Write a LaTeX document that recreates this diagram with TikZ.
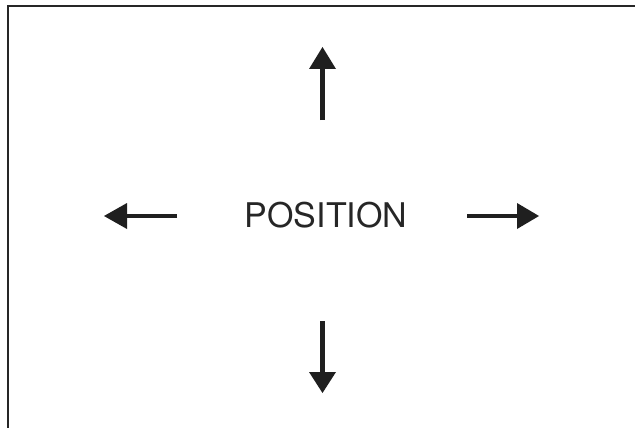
\documentclass[tikz,border=0pt]{standalone}
\usepackage{fontspec}
\setmainfont{TeX Gyre Heros}
\begin{document}
\begin{tikzpicture}[x=1pt,y=-1pt,
  frame/.style={draw=black!85, line width=2pt},
  shaft/.style={draw=black!88, line width=4.5pt},
  head/.style={fill=black!88, draw=none},
  label/.style={font=\fontsize{34}{37}\selectfont, text=black!85, inner sep=0pt}]
\useasboundingbox (0,0) rectangle (635,428);
\draw[frame] (7.5,428) -- (7.5,6.5) -- (635,6.5);
\node[label] (pos) at (326,215) {POSITION};
% up
\coordinate (u1) at (322.5,120);
\coordinate (u2) at (322.5,68);
\draw[shaft] (u1) -- (u2);
\fill[head] (309,69) -- (336,69) -- (322.5,47) -- cycle;
% down
\coordinate (d1) at (322.5,321);
\coordinate (d2) at (322.5,373);
\draw[shaft] (d1) -- (d2);
\fill[head] (309,372) -- (336,372) -- (322.5,393) -- cycle;
% left
\coordinate (l1) at (177,215.8);
\coordinate (l2) at (126,215.8);
\draw[shaft] (l1) -- (l2);
\fill[head] (127,203) -- (127,229) -- (104,216) -- cycle;
% right
\coordinate (r1) at (467,215.8);
\coordinate (r2) at (518,215.8);
\draw[shaft] (r1) -- (r2);
\fill[head] (517,203) -- (517,229) -- (539,216) -- cycle;
\end{tikzpicture}
\end{document}
